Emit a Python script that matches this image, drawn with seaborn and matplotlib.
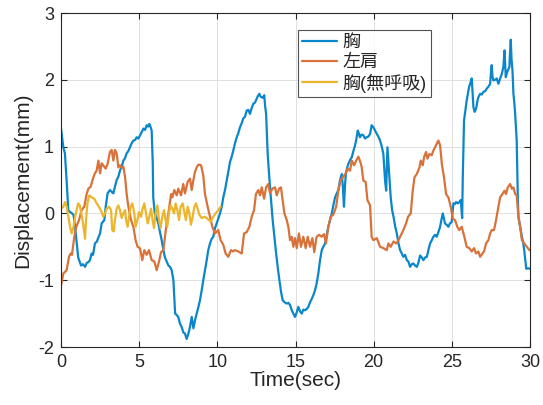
import numpy as np
import pandas as pd
import matplotlib
matplotlib.use("Agg")
import matplotlib.pyplot as plt
import seaborn as sns

series_names = ["胸", "左肩", "胸(無呼吸)"]
colors = ["#0A86CA", "#D9723A", "#EDB52C"]

chest_t = [0, 0.15, 0.25, 0.36, 0.47, 0.6, 0.8, 0.9, 1.1, 1.28, 1.4, 1.54, 1.65, 1.75, 1.85, 1.96, 2.05, 2.17, 2.3, 2.39,
           2.5, 2.6, 2.77, 2.86, 2.98, 3.13, 3.25, 3.35, 3.45, 3.56, 3.67, 3.77, 3.88, 3.99, 4.1, 4.2, 4.3, 4.41, 4.52, 4.63,
           4.74, 4.84, 4.95, 5.06, 5.17, 5.27, 5.38, 5.48, 5.57, 5.65, 5.72, 5.8, 5.87, 5.9, 6.0, 6.1, 6.23, 6.33, 6.44, 6.55,
           6.65, 6.76, 6.87, 6.97, 7.08, 7.19, 7.3, 7.4, 7.5, 7.61, 7.72, 7.82, 7.93, 8.04, 8.15, 8.25, 8.36, 8.47, 8.57, 8.68,
           8.79, 8.89, 9.0, 9.1, 9.21, 9.32, 9.42, 9.53, 9.64, 9.74, 9.85, 9.96, 10.06, 10.17, 10.28, 10.38, 10.49, 10.6, 10.7, 10.81,
           10.92, 11.02, 11.13, 11.24, 11.34, 11.45, 11.56, 11.66, 11.77, 11.88, 11.98, 12.09, 12.2, 12.3, 12.41, 12.52, 12.6, 12.69, 12.76, 12.83,
           12.92, 13.0, 13.06, 13.12, 13.22, 13.37, 13.54, 13.65, 13.76, 13.87, 13.97, 14.08, 14.18, 14.3, 14.44, 14.55, 14.65, 14.76, 14.86, 14.97,
           15.08, 15.18, 15.3, 15.4, 15.5, 15.61, 15.72, 15.82, 15.93, 16.04, 16.15, 16.25, 16.35, 16.46, 16.57, 16.68, 16.78, 16.89, 17.0, 17.1,
           17.21, 17.32, 17.42, 17.53, 17.64, 17.74, 17.85, 17.96, 18.03, 18.1, 18.16, 18.22, 18.3, 18.38, 18.49, 18.6, 18.7, 18.81, 18.9, 18.98,
           19.05, 19.12, 19.23, 19.34, 19.45, 19.55, 19.66, 19.77, 19.87, 19.98, 20.09, 20.2, 20.3, 20.41, 20.52, 20.62, 20.73, 20.8, 20.88, 20.98,
           21.09, 21.18, 21.27, 21.38, 21.48, 21.59, 21.69, 21.8, 21.9, 22.01, 22.12, 22.22, 22.33, 22.44, 22.54, 22.65, 22.76, 22.86, 22.97, 23.08,
           23.18, 23.29, 23.4, 23.5, 23.61, 23.72, 23.82, 23.93, 24.03, 24.14, 24.25, 24.33, 24.42, 24.5, 24.56, 24.67, 24.78, 24.88, 24.99, 25.1,
           25.2, 25.27, 25.38, 25.48, 25.57, 25.66, 25.7, 25.78, 25.87, 25.95, 26.03, 26.1, 26.2, 26.27, 26.33, 26.38, 26.46, 26.52, 26.57, 26.65,
           26.7, 26.81, 26.92, 27.02, 27.13, 27.24, 27.35, 27.45, 27.5, 27.55, 27.6, 27.66, 27.77, 27.87, 27.98, 28.09, 28.2, 28.3, 28.37, 28.45,
           28.52, 28.58, 28.68, 28.72, 28.77, 28.82, 28.88, 28.94, 29.0, 29.05, 29.15, 29.22, 29.26, 29.37, 29.48, 29.55, 29.63, 29.7, 29.76, 29.88,
           30.0]
chest_v = [1.27, 0.99, 0.9, 0.49, 0.04, 0.02, -0.02, -0.2, -0.66, -0.78, -0.76, -0.8, -0.74, -0.73, -0.7, -0.6, -0.62, -0.45, -0.42, -0.36,
           -0.3, -0.15, -0.1, 0.1, 0.3, 0.35, 0.32, 0.3, 0.4, 0.5, 0.55, 0.64, 0.7, 0.79, 0.83, 0.9, 0.93, 0.99, 1.05, 1.09,
           1.1, 1.14, 1.12, 1.17, 1.22, 1.27, 1.25, 1.32, 1.3, 1.34, 1.3, 1.24, 0.75, 0.24, 0.0, -0.05, -0.15, -0.28, -0.4, -0.55,
           -0.66, -0.72, -0.78, -0.8, -0.85, -1.0, -1.5, -1.52, -1.55, -1.65, -1.7, -1.78, -1.8, -1.88, -1.8, -1.7, -1.55, -1.72, -1.6, -1.5,
           -1.4, -1.3, -1.15, -1.0, -0.85, -0.7, -0.55, -0.45, -0.38, -0.35, -0.22, -0.15, -0.08, 0.0, 0.1, 0.24, 0.35, 0.49, 0.62, 0.77,
           0.85, 0.94, 1.05, 1.14, 1.2, 1.29, 1.35, 1.42, 1.45, 1.54, 1.55, 1.49, 1.58, 1.64, 1.66, 1.72, 1.76, 1.79, 1.75, 1.74,
           1.73, 1.77, 1.6, 1.49, 0.89, 0.39, -0.1, -0.35, -0.6, -0.82, -1.0, -1.18, -1.3, -1.33, -1.35, -1.34, -1.37, -1.45, -1.5, -1.55,
           -1.48, -1.4, -1.47, -1.5, -1.44, -1.45, -1.43, -1.4, -1.33, -1.28, -1.22, -1.15, -1.05, -0.9, -0.7, -0.55, -0.5, -0.45, -0.32, -0.2,
           -0.1, 0.0, 0.12, 0.24, 0.3, 0.35, 0.5, 0.59, 0.4, 0.1, 0.4, 0.59, 0.68, 0.74, 0.8, 0.84, 0.93, 1.02, 1.12, 1.24,
           1.2, 1.14, 1.18, 1.17, 1.12, 1.14, 1.15, 1.19, 1.32, 1.29, 1.24, 1.19, 1.15, 1.09, 1.0, 0.89, 0.49, 0.34, 0.99, 0.64,
           0.24, 0.05, -0.05, -0.2, -0.3, -0.45, -0.55, -0.6, -0.65, -0.62, -0.7, -0.72, -0.8, -0.76, -0.75, -0.78, -0.8, -0.74, -0.63, -0.66,
           -0.7, -0.66, -0.65, -0.55, -0.45, -0.4, -0.35, -0.32, -0.35, -0.28, -0.2, -0.1, 0.0, -0.08, -0.15, -0.17, -0.2, -0.15, -0.13, 0.15,
           0.14, 0.17, 0.15, 0.17, 0.2, -0.07, 0.54, 1.39, 1.55, 1.69, 1.8, 1.89, 1.96, 2.02, 1.8, 1.59, 1.52, 1.55, 1.59, 1.7,
           1.74, 1.79, 1.78, 1.82, 1.83, 1.87, 1.9, 1.94, 2.1, 2.22, 2.05, 1.99, 2.0, 2.02, 1.94, 2.02, 2.09, 2.2, 2.44, 2.04,
           2.1, 2.14, 2.19, 2.4, 2.6, 2.3, 2.14, 1.79, 1.65, 1.49, 1.09, 0.24, -0.05, -0.2, -0.35, -0.42, -0.55, -0.7, -0.83, -0.82,
           -0.83]

shoulder_t = [0, 0.15, 0.36, 0.51, 0.62, 0.7, 0.85, 0.98, 1.15, 1.32, 1.49, 1.64, 1.75, 1.9, 2.07, 2.17, 2.28, 2.39, 2.5, 2.6,
              2.7, 2.86, 2.98, 3.13, 3.24, 3.35, 3.45, 3.56, 3.67, 3.77, 3.88, 3.99, 4.1, 4.2, 4.31, 4.48, 4.63, 4.77, 4.9, 5.05,
              5.2, 5.33, 5.48, 5.63, 5.8, 5.97, 6.12, 6.27, 6.4, 6.55, 6.65, 6.76, 6.87, 7.04, 7.12, 7.25, 7.4, 7.5, 7.68, 7.82,
              7.93, 8.1, 8.25, 8.36, 8.47, 8.57, 8.68, 8.79, 8.96, 9.1, 9.21, 9.38, 9.53, 9.68, 9.85, 10.06, 10.21, 10.38, 10.53, 10.7,
              10.87, 11.0, 11.13, 11.34, 11.56, 11.71, 11.88, 12.05, 12.2, 12.35, 12.47, 12.62, 12.73, 12.84, 12.99, 13.12, 13.26, 13.37, 13.52, 13.69,
              13.8, 13.95, 14.07, 14.18, 14.29, 14.44, 14.54, 14.65, 14.76, 14.86, 14.97, 15.08, 15.22, 15.35, 15.5, 15.65, 15.78, 15.93, 16.08, 16.2,
              16.35, 16.52, 16.67, 16.82, 16.95, 17.1, 17.25, 17.42, 17.6, 17.74, 17.89, 18.06, 18.21, 18.34, 18.49, 18.6, 18.75, 18.88, 19.02, 19.12,
              19.23, 19.34, 19.49, 19.6, 19.77, 19.87, 19.98, 20.2, 20.41, 20.62, 20.84, 20.94, 21.09, 21.27, 21.44, 21.59, 21.69, 21.9, 22.07, 22.2,
              22.37, 22.5, 22.61, 22.76, 22.93, 23.01, 23.14, 23.22, 23.35, 23.44, 23.57, 23.71, 23.82, 23.93, 24.03, 24.14, 24.25, 24.36, 24.5, 24.63,
              24.78, 24.93, 25.06, 25.2, 25.35, 25.48, 25.63, 25.78, 25.95, 26.12, 26.27, 26.42, 26.55, 26.7, 26.81, 26.96, 27.06, 27.19, 27.34, 27.45,
              27.55, 27.7, 27.83, 27.94, 28.09, 28.24, 28.37, 28.47, 28.58, 28.73, 28.84, 28.94, 29.05, 29.15, 29.26, 29.37, 29.48, 29.63, 29.8, 29.96]
shoulder_v = [-1.08, -0.9, -0.85, -0.65, -0.6, -0.62, -0.35, -0.2, -0.1, 0.05, 0.1, 0.29, 0.37, 0.4, 0.54, 0.6, 0.64, 0.79, 0.6, 0.75,
              0.72, 0.67, 0.74, 0.92, 0.95, 0.79, 0.95, 0.9, 0.69, 0.72, 0.68, 0.7, 0.54, 0.29, 0.1, -0.1, -0.2, -0.4, -0.5, -0.52,
              -0.7, -0.55, -0.62, -0.55, -0.7, -0.72, -0.85, -0.72, -0.58, -0.55, -0.35, -0.15, 0.0, 0.29, 0.24, 0.35, 0.27, 0.37, 0.27, 0.44,
              0.3, 0.47, 0.52, 0.35, 0.5, 0.62, 0.69, 0.73, 0.72, 0.57, 0.29, 0.1, -0.05, -0.2, -0.3, -0.25, -0.4, -0.47, -0.6, -0.65,
              -0.55, -0.57, -0.55, -0.57, -0.6, -0.3, -0.28, -0.2, -0.05, 0.05, 0.29, 0.35, 0.27, 0.39, 0.22, 0.39, 0.44, 0.3, 0.37, 0.39,
              0.27, 0.37, 0.39, 0.2, 0.0, -0.1, -0.2, -0.4, -0.35, -0.5, -0.37, -0.52, -0.3, -0.5, -0.35, -0.52, -0.35, -0.5, -0.37, -0.58,
              -0.35, -0.32, -0.35, -0.31, -0.45, -0.2, -0.05, -0.02, 0.1, 0.34, 0.5, 0.55, 0.6, 0.67, 0.64, 0.79, 0.72, 0.79, 0.85, 0.79,
              0.7, 0.49, 0.47, 0.2, 0.12, -0.35, -0.4, -0.37, -0.5, -0.52, -0.55, -0.45, -0.5, -0.42, -0.45, -0.4, -0.35, -0.25, -0.15, -0.05,
              0.0, 0.34, 0.54, 0.59, 0.69, 0.79, 0.72, 0.84, 0.92, 0.82, 0.89, 0.87, 0.94, 0.99, 1.04, 1.09, 1.02, 0.74, 0.54, 0.29,
              0.24, 0.1, -0.08, -0.1, -0.2, -0.25, -0.2, -0.33, -0.5, -0.52, -0.57, -0.52, -0.6, -0.57, -0.65, -0.6, -0.57, -0.45, -0.4, -0.3,
              -0.25, -0.25, -0.1, 0.05, 0.24, 0.29, 0.34, 0.29, 0.39, 0.44, 0.37, 0.39, 0.29, 0.27, -0.05, -0.2, -0.4, -0.45, -0.5, -0.55]

apnea_t = [0, 0.15, 0.26, 0.36, 0.47, 0.58, 0.68, 0.8, 0.9, 1.0, 1.1, 1.2, 1.3, 1.41, 1.54, 1.6, 1.69, 1.81, 1.96, 2.13,
           2.28, 2.43, 2.6, 2.7, 2.81, 2.92, 3.07, 3.2, 3.28, 3.37, 3.45, 3.56, 3.67, 3.77, 3.88, 3.99, 4.1, 4.16, 4.26, 4.35,
           4.46, 4.56, 4.69, 4.77, 4.88, 4.99, 5.12, 5.22, 5.33, 5.44, 5.54, 5.65, 5.76, 5.86, 5.95, 6.05, 6.16, 6.27, 6.37, 6.48,
           6.59, 6.69, 6.8, 6.9, 7.01, 7.12, 7.23, 7.33, 7.44, 7.55, 7.65, 7.78, 7.89, 7.99, 8.1, 8.21, 8.31, 8.42, 8.53, 8.63,
           8.74, 8.85, 9.0, 9.17, 9.32, 9.46, 9.59, 9.74, 9.89, 10.06, 10.21]
apnea_v = [0.07, 0.1, 0.17, 0.1, -0.05, -0.2, -0.3, -0.2, -0.05, 0.05, 0.15, 0.12, 0.0, -0.15, -0.38, -0.1, 0.15, 0.27, 0.24, 0.22,
           0.15, 0.1, 0.02, -0.05, 0.0, 0.07, 0.1, 0.05, -0.25, -0.27, -0.1, 0.07, 0.12, 0.05, -0.07, 0.0, 0.05, -0.1, -0.2, -0.05,
           0.1, 0.15, 0.0, -0.2, -0.1, 0.02, -0.05, 0.07, 0.15, 0.0, -0.15, -0.05, 0.07, -0.1, -0.22, 0.0, 0.12, -0.1, -0.22, -0.05,
           0.05, -0.1, -0.2, 0.0, 0.12, 0.07, 0.0, 0.15, 0.05, -0.1, 0.1, 0.15, 0.02, -0.1, 0.1, 0.0, -0.17, -0.05, 0.1, 0.15,
           0.07, -0.02, -0.07, -0.05, -0.07, -0.1, -0.12, -0.05, 0.0, 0.05, 0.1]

x_ticks = [0, 5, 10, 15, 20, 25, 30]
y_ticks = [-2, -1, 0, 1, 2, 3]

df = pd.concat([
    pd.DataFrame({"t": chest_t, "v": chest_v, "s": series_names[0]}),
    pd.DataFrame({"t": shoulder_t, "v": shoulder_v, "s": series_names[1]}),
    pd.DataFrame({"t": apnea_t, "v": apnea_v, "s": series_names[2]}),
], ignore_index=True)

sns.set_theme(style="white")
plt.rcParams['font.family'] = ['Liberation Sans', 'Noto Sans CJK JP', 'DejaVu Sans']
plt.rcParams['axes.unicode_minus'] = False
axc = "#262626"

fig = plt.figure(figsize=(5.43, 4.05), dpi=100)
ax = fig.add_axes([61/543, 58/405, 469/543, 334/405])

sns.lineplot(data=df, x="t", y="v", hue="s", hue_order=series_names,
             palette=dict(zip(series_names, colors)), estimator=None, sort=False,
             linewidth=1.6, ax=ax)

ax.set_xlim(0, 30)
ax.set_ylim(-2, 3)
ax.set_xticks(x_ticks)
ax.set_yticks(y_ticks)
ax.grid(True, color="#e0e0e0", linewidth=0.7)
ax.set_axisbelow(True)
for sp in ax.spines.values():
    sp.set_visible(True)
    sp.set_color(axc)
    sp.set_linewidth(0.8)
ax.tick_params(direction="in", length=4, width=0.8, colors=axc, labelsize=13,
               top=True, right=True, bottom=True, left=True, pad=5)
ax.set_xlabel("Time(sec)", fontsize=15, color=axc, labelpad=0)
ax.set_ylabel("Displacement(mm)", fontsize=15, color=axc, labelpad=4)

leg = ax.legend(loc="upper left", bbox_to_anchor=(0.505, 0.95), borderaxespad=0,
                fontsize=13, frameon=True, fancybox=False, handlelength=1.9,
                handletextpad=0.3, borderpad=0.25, labelspacing=0.15)
leg.get_frame().set_edgecolor(axc)
leg.get_frame().set_linewidth(0.8)
for line in leg.get_lines():
    line.set_linewidth(1.6)
for txt in leg.get_texts():
    txt.set_color(axc)

fig.savefig("out.png", dpi=100)
